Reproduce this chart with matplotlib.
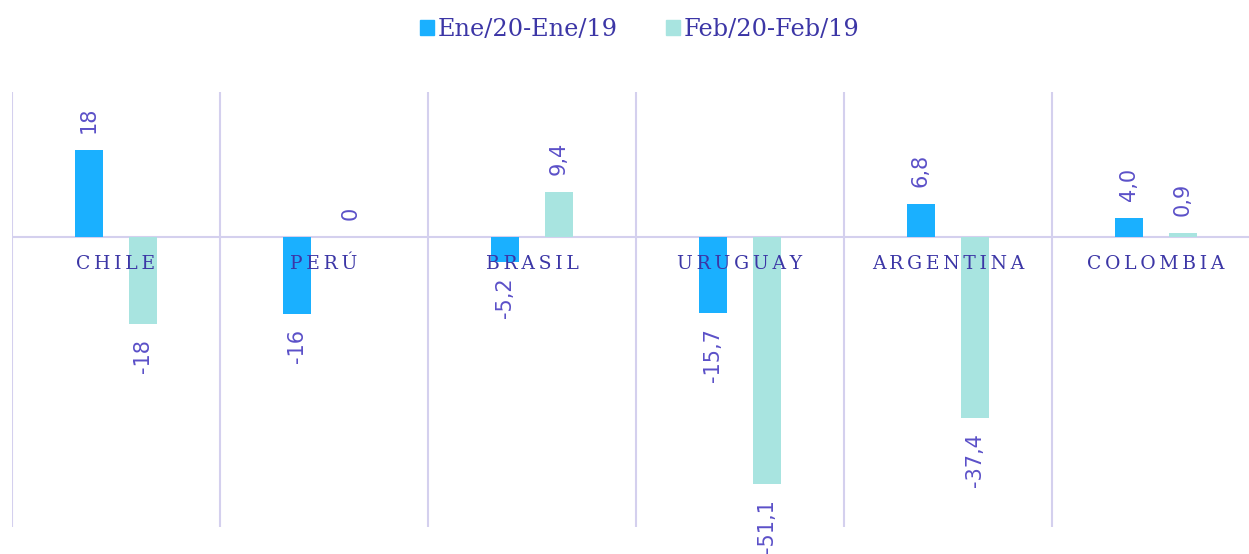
import matplotlib.pyplot as plt
import numpy as np
from matplotlib.patches import Patch

categories = ["CHILE", "PERÚ", "BRASIL", "URUGUAY", "ARGENTINA", "COLOMBIA"]
ene_values = [18, -16, -5.2, -15.7, 6.8, 4.0]
feb_values = [-18, 0, 9.4, -51.1, -37.4, 0.9]
ene_labels = ["18", "-16", "-5,2", "-15,7", "6,8", "4,0"]
feb_labels = ["-18", "0", "9,4", "-51,1", "-37,4", "0,9"]
series_names = ["Ene/20-Ene/19", "Feb/20-Feb/19"]

BLUE = "#1AB0FF"
TEAL = "#A8E4E0"
GRID = "#D4D0EE"
LABEL_COLOR = "#5B50C8"
CAT_COLOR = "#3C36A6"

fig = plt.figure(figsize=(12.49, 5.54), dpi=100)
ax = fig.add_axes([12 / 1249, 27 / 554, 1248 / 1249, 435 / 554])

x = np.arange(len(categories))
width = 0.135
offset = 0.13

ax.bar(x - offset, ene_values, width, color=BLUE, zorder=2)
ax.bar(x + offset, feb_values, width, color=TEAL, zorder=2)

ax.set_xlim(-0.5, len(categories) - 0.5)
ax.set_ylim(-60, 30)

for b in np.arange(-0.5, len(categories), 1.0):
    ax.axvline(b, color=GRID, linewidth=1.5, zorder=1)
ax.axhline(0, color=GRID, linewidth=1.5, zorder=1)


def put_label(xpos, val, txt):
    # value labels sit above positive bars and below negative ones, rotated
    if val >= 0:
        ax.annotate(txt, (xpos, val), xytext=(0, 17), textcoords="offset pixels",
                    rotation=90, ha="center", va="bottom", color=LABEL_COLOR,
                    fontsize=15, family="DejaVu Sans")
    else:
        ax.annotate(txt, (xpos, val), xytext=(0, -15), textcoords="offset pixels",
                    rotation=90, ha="center", va="top", color=LABEL_COLOR,
                    fontsize=15, family="DejaVu Sans", annotation_clip=False)


for i in range(len(categories)):
    put_label(x[i] - offset, ene_values[i], ene_labels[i])
    put_label(x[i] + offset, feb_values[i], feb_labels[i])
    spaced = "\u2009".join(categories[i])
    ax.annotate(spaced, (x[i], 0), xytext=(0, -27), textcoords="offset pixels",
                ha="center", va="center", color=CAT_COLOR, fontsize=13.5,
                family="DejaVu Serif", zorder=3)

ax.set_xticks([])
ax.set_yticks([])
for s in ax.spines.values():
    s.set_visible(False)

handles = [Patch(color=BLUE), Patch(color=TEAL)]
fig.legend(handles, series_names, loc="center", bbox_to_anchor=(0.512, 0.947),
           ncol=2, frameon=False, prop={"family": "DejaVu Serif", "size": 17.3},
           labelcolor=CAT_COLOR, handlelength=0.6, handleheight=0.6,
           handletextpad=0.15, columnspacing=2.0)

fig.savefig("out.png", dpi=100)
